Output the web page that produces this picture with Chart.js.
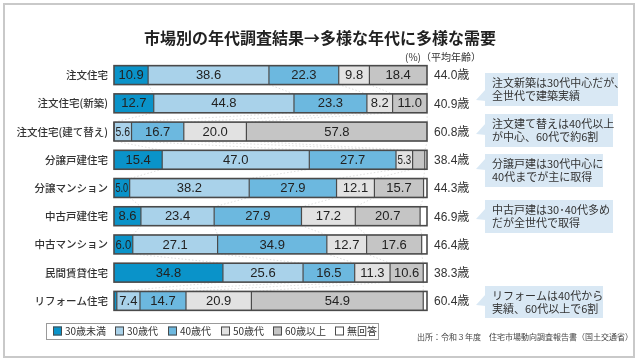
<!DOCTYPE html>
<html>
<head>
<meta charset="utf-8">
<script src="https://cdn.jsdelivr.net/npm/chart.js@4"></script>
<style>
  body { margin: 0; background: #fff; }
  canvas { display: block; }
</style>
</head>
<body>
<canvas id="market-chart" width="640" height="362"></canvas>
<script>
const chartTitle = '市場別の年代調査結果→多様な年代に多様な需要';
const categories = ['注文住宅', '注文住宅(新築)', '注文住宅(建て替え)', '分譲戸建住宅', '分譲マンション',
                    '中古戸建住宅', '中古マンション', '民間賃貸住宅', 'リフォーム住宅'];
const seriesNames = ['30歳未満', '30歳代', '40歳代', '50歳代', '60歳以上', '無回答'];
const under30   = [10.9, 12.7, 0, 15.4, 5.0, 8.6, 6.0, 34.8, 0.9];
const age30s    = [38.6, 44.8, 5.6, 47.0, 38.2, 23.4, 27.1, 25.6, 7.4];
const age40s    = [22.3, 23.3, 16.7, 27.7, 27.9, 27.9, 34.9, 16.5, 14.7];
const age50s    = [9.8, 8.2, 20.0, 5.3, 12.1, 17.2, 12.7, 11.3, 20.9];
const age60plus = [18.4, 11.0, 57.8, 3.9, 15.7, 20.7, 17.6, 10.6, 54.9];
const noAnswer  = [0, 0, 0, 0.7, 1.1, 2.2, 1.7, 1.2, 1.2];
const avgAge    = [44.0, 40.9, 60.8, 38.4, 44.3, 46.9, 46.4, 38.3, 60.4];
const unitNote  = '(%)（平均年齢）';
const sourceNote = '出所：令和３年度　住宅市場動向調査報告書（国土交通省）';

// callout notes on the right
const noteTexts = [
    ['注文新築は30代中心だが、', '全世代で建築実績'],
    ['注文建て替えは40代以上', 'が中心、60代で約6割'],
    ['分譲戸建は30代中心に', '40代までが主に取得'],
    ['中古戸建は30･40代多め', 'だが全世代で取得'],
    ['リフォームは40代から', '実績、60代以上で6割']
];
// box geometry: x, y, w, h, arrow y
const noteBoxes = [
    [485, 73, 133, 33, 97],
    [485, 114, 128, 33, 131],
    [485, 154, 118, 33, 166],
    [485, 200, 128, 33, 216],
    [485, 286, 118, 32, 302]
];

const seriesColors = ['#0a93c9', '#a9d2ea', '#6cb8df', '#e2e2e2', '#c5c5c5', '#ffffff'];
const edgeColor = '#4a4a4a';
const jpFont = '"Noto Sans CJK JP", "Noto Sans", sans-serif';
const numFont = '"Liberation Sans", Arial, "Noto Sans CJK JP", sans-serif';

const seriesValues = [under30, age30s, age40s, age50s, age60plus, noAnswer];

function buildDatasets() {
    var sets = [];
    for (let i = 0; i < seriesValues.length; i++) {
        sets.push({
            label: seriesNames[i],
            data: seriesValues[i],
            backgroundColor: seriesColors[i],
            borderWidth: 0,
            barPercentage: 0.67,
            categoryPercentage: 1
        });
    }
    return sets;
}

// faint dotted lines linking the segment edges from row to row
const connectorPlugin = {
    id: 'connectors',
    beforeDatasetsDraw(chart) {
        const ctx = chart.ctx;
        const n = seriesValues.length - 1;
        ctx.save();
        ctx.strokeStyle = '#d6d6d6';
        ctx.lineWidth = 0.8;
        ctx.setLineDash([1.5, 2]);
        for (let k = 0; k < n; k++) {
            const meta = chart.getDatasetMeta(k);
            for (let r = 0; r < categories.length - 1; r++) {
                const a = meta.data[r], b = meta.data[r + 1];
                ctx.beginPath();
                ctx.moveTo(a.x, a.y + a.height / 2);
                ctx.lineTo(b.x, b.y - b.height / 2);
                ctx.stroke();
            }
        }
        ctx.restore();
    }
};

// segment dividers, outlines, values and average ages
const barTextPlugin = {
    id: 'barText',
    afterDatasetsDraw(chart) {
        const ctx = chart.ctx;
        const xs = chart.scales.x;
        ctx.save();
        for (let r = 0; r < categories.length; r++) {
            const first = chart.getDatasetMeta(0).data[r];
            const top = first.y - first.height / 2;
            const h = first.height;
            ctx.strokeStyle = edgeColor;
            ctx.lineWidth = 1.2;
            for (let k = 1; k < seriesValues.length; k++) {
                const el = chart.getDatasetMeta(k).data[r];
                if (seriesValues[k][r] <= 0) continue;
                const x0 = Math.min(el.base, el.x);
                ctx.beginPath();
                ctx.moveTo(x0, top);
                ctx.lineTo(x0, top + h);
                ctx.stroke();
            }
            ctx.lineWidth = 1.6;
            ctx.strokeRect(xs.getPixelForValue(0), top, xs.getPixelForValue(100) - xs.getPixelForValue(0), h);

            // value labels
            ctx.fillStyle = '#222';
            ctx.font = '13px ' + numFont;
            ctx.textAlign = 'center';
            ctx.textBaseline = 'middle';
            for (let k = 0; k < seriesValues.length - 1; k++) {
                const v = seriesValues[k][r];
                if (v < 5) continue;
                const el = chart.getDatasetMeta(k).data[r];
                const segW = Math.abs(el.x - el.base);
                const cx = (el.x + el.base) / 2;
                const txt = v.toFixed(1);
                const w = ctx.measureText(txt).width;
                const avail = segW - 3;
                if (w > avail) {
                    ctx.save();
                    ctx.translate(cx, first.y + 0.5);
                    ctx.scale(avail / w, 1);
                    ctx.fillText(txt, 0, 0);
                    ctx.restore();
                } else {
                    ctx.fillText(txt, cx, first.y + 0.5);
                }
            }

            // average age
            ctx.fillStyle = '#333';
            ctx.font = '12px ' + numFont;
            ctx.textAlign = 'left';
            ctx.fillText(avgAge[r].toFixed(1) + '歳', 434, first.y + 1);
        }
        ctx.restore();
    }
};

// title, frame, callouts, legend box, source
const decorPlugin = {
    id: 'decor',
    beforeDraw(chart) {
        const ctx = chart.ctx;
        ctx.save();
        ctx.fillStyle = '#fff';
        ctx.fillRect(0, 0, chart.width, chart.height);
        ctx.restore();
    },
    afterDraw(chart) {
        const ctx = chart.ctx;
        ctx.save();
        ctx.strokeStyle = '#c9c9c9';
        ctx.lineWidth = 2;
        ctx.strokeRect(4, 4, 630, 353);

        ctx.fillStyle = '#222';
        ctx.font = 'bold 16px ' + jpFont;
        ctx.textAlign = 'center';
        ctx.textBaseline = 'middle';
        ctx.fillText(chartTitle, 320, 38);

        ctx.fillStyle = '#333';
        ctx.font = '10px ' + jpFont;
        ctx.textAlign = 'left';
        ctx.fillText(unitNote, 405, 57);

        // callouts
        for (let i = 0; i < noteTexts.length; i++) {
            const b = noteBoxes[i];
            ctx.fillStyle = '#d9e8f4';
            ctx.fillRect(b[0], b[1], b[2], b[3]);
            ctx.beginPath();
            ctx.moveTo(b[0] + 1, b[4] - 8);
            ctx.lineTo(b[0] - 9, b[4] + 3);
            ctx.lineTo(b[0] + 1, b[4] + 4);
            ctx.closePath();
            ctx.fill();
            ctx.fillStyle = '#333';
            ctx.font = '11px ' + jpFont;
            ctx.textAlign = 'left';
            ctx.textBaseline = 'middle';
            ctx.fillText(noteTexts[i][0], b[0] + 7, b[1] + 10);
            ctx.fillText(noteTexts[i][1], b[0] + 7, b[1] + 23);
        }

        // legend
        const legX = [53, 115, 168, 221, 273, 335];
        const legY = 331;
        ctx.strokeStyle = '#9a9a9a';
        ctx.lineWidth = 1;
        ctx.strokeRect(46.5, 323.5, 332, 16);
        ctx.font = '10px ' + jpFont;
        for (let i = 0; i < seriesNames.length; i++) {
            ctx.fillStyle = seriesColors[i];
            ctx.fillRect(legX[i], legY - 4.5, 9, 9);
            ctx.strokeStyle = edgeColor;
            ctx.strokeRect(legX[i] + 0.5, legY - 4, 8, 8);
            ctx.fillStyle = '#333';
            ctx.fillText(seriesNames[i], legX[i] + 12, legY + 0.5);
        }

        ctx.fillStyle = '#444';
        ctx.font = '8px ' + jpFont;
        ctx.fillText(sourceNote, 417, 337);
        ctx.restore();
    }
};

function makeChart() {
    var ctx = document.getElementById('market-chart').getContext('2d');
    window.marketChart = new Chart(ctx, {
        type: 'bar',
        data: {
            labels: categories,
            datasets: buildDatasets()
        },
        options: {
            indexAxis: 'y',
            responsive: false,
            animation: false,
            layout: { padding: { left: 0, top: 61, right: 213, bottom: 47 } },
            plugins: {
                legend: { display: false },
                tooltip: { enabled: false }
            },
            scales: {
                x: { stacked: true, min: 0, max: 100, display: false },
                y: {
                    stacked: true,
                    afterFit(scale) { scale.width = 114; },
                    ticks: {
                        color: '#333',
                        padding: 6,
                        font: { family: jpFont, size: 10.5, weight: '500' }
                    },
                    border: { display: false },
                    grid: { display: false, drawTicks: false }
                }
            }
        },
        plugins: [connectorPlugin, barTextPlugin, decorPlugin]
    });
}

makeChart();
</script>
</body>
</html>
